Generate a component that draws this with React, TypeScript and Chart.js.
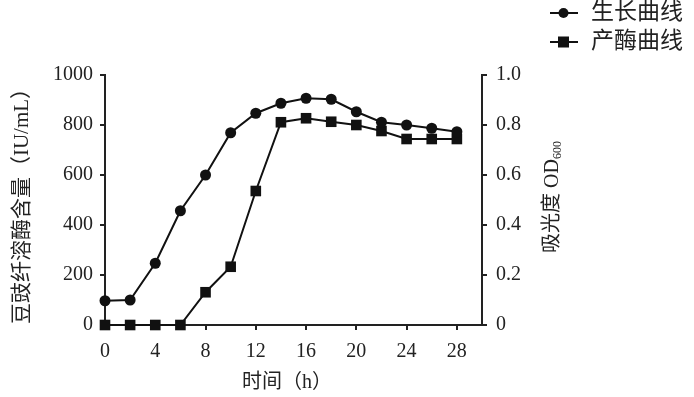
import React, { useEffect, useRef } from "react";
import { Chart, registerables } from "chart.js";

Chart.register(...registerables);

const hours = [0, 2, 4, 6, 8, 10, 12, 14, 16, 18, 20, 22, 24, 26, 28];
const growthOD = [0.097, 0.1, 0.247, 0.457, 0.6, 0.769, 0.847, 0.887, 0.907, 0.903, 0.853, 0.811, 0.8, 0.787, 0.773];
const enzyme = [0, 0, 0, 0, 131, 233, 536, 811, 827, 813, 800, 776, 744, 744, 744];
const seriesLabels = ["生长曲线", "产酶曲线"];
const xTicks = [0, 4, 8, 12, 16, 20, 24, 28];
const leftTicks = [0, 200, 400, 600, 800, 1000];
const rightTicks = [0, 0.2, 0.4, 0.6, 0.8, 1.0];
const xTitle = "时间（h）";
const leftTitle = "豆豉纤溶酶含量（IU/mL）";
const rightTitleMain = "吸光度 OD";
const rightTitleSub = "600";

const SERIF = "'Liberation Serif', 'DejaVu Serif', serif";
const CJK = "'Liberation Serif', 'Noto Sans CJK SC', serif";

const titlesPlugin = {
  id: "titlesPlugin",
  afterDraw(chart: any) {
    const ctx = chart.ctx;
    const area = chart.chartArea;
    const cy = (area.top + area.bottom) / 2;
    ctx.save();
    ctx.fillStyle = "#222";
    ctx.textAlign = "center";
    ctx.textBaseline = "middle";
    // left title
    ctx.save();
    ctx.translate(22, cy + 1);
    ctx.rotate(-Math.PI / 2);
    ctx.font = `21px ${CJK}`;
    ctx.fillText(leftTitle, 0, 0);
    ctx.restore();
    // right title
    ctx.save();
    ctx.translate(553, cy - 3);
    ctx.rotate(-Math.PI / 2);
    ctx.font = `20px ${CJK}`;
    const mw = ctx.measureText(rightTitleMain).width;
    ctx.font = `12px ${SERIF}`;
    const sw = ctx.measureText(rightTitleSub).width;
    const total = mw + sw;
    ctx.textAlign = "left";
    ctx.font = `20px ${CJK}`;
    ctx.fillText(rightTitleMain, -total / 2, 0);
    ctx.font = `12px ${SERIF}`;
    ctx.fillText(rightTitleSub, -total / 2 + mw, 5);
    ctx.restore();
    // x title
    ctx.font = `20px ${CJK}`;
    ctx.textAlign = "center";
    ctx.fillText(xTitle, 287, 383);
    // legend
    const rows = [13, 42];
    chart.data.datasets.forEach((ds: any, i: number) => {
      const y = rows[i];
      ctx.strokeStyle = "#111";
      ctx.lineWidth = 2;
      ctx.beginPath();
      ctx.moveTo(550, y);
      ctx.lineTo(578, y);
      ctx.stroke();
      ctx.fillStyle = "#111";
      if (ds.pointStyle === "circle") {
        ctx.beginPath();
        ctx.arc(563.5, y, 5, 0, Math.PI * 2);
        ctx.fill();
      } else {
        ctx.fillRect(558, y - 5.5, 11, 11);
      }
      ctx.fillStyle = "#222";
      ctx.font = `23px ${CJK}`;
      ctx.textAlign = "left";
      ctx.fillText(ds.label, 591, y);
    });
    ctx.restore();
  },
};

export default function App() {
  const ref = useRef<HTMLCanvasElement>(null);
  useEffect(() => {
    document.body.style.margin = "0";
    const chart = new Chart(ref.current!, {
      type: "line",
      data: {
        datasets: [
          {
            label: seriesLabels[0],
            data: hours.map((h, i) => ({ x: h, y: growthOD[i] })),
            yAxisID: "y1",
            borderColor: "#111",
            backgroundColor: "#111",
            borderWidth: 2,
            pointStyle: "circle",
            pointRadius: 5.5,
            pointBorderWidth: 0,
            clip: false,
          },
          {
            label: seriesLabels[1],
            data: hours.map((h, i) => ({ x: h, y: enzyme[i] })),
            yAxisID: "y",
            borderColor: "#111",
            backgroundColor: "#111",
            borderWidth: 2,
            pointStyle: "rect",
            pointRadius: 7.5,
            pointBorderWidth: 0,
            clip: false,
          },
        ],
      },
      options: {
        animation: false,
        responsive: false,
        events: [],
        layout: { padding: { top: 75, left: 0, right: 0, bottom: 0 } },
        plugins: { legend: { display: false }, tooltip: { enabled: false } },
        scales: {
          x: {
            type: "linear",
            min: 0,
            max: 30,
            afterBuildTicks: (s: any) => {
              s.ticks = xTicks.map((v) => ({ value: v }));
            },
            afterFit: (s: any) => {
              s.height = 72;
            },
            grid: { drawOnChartArea: false, tickLength: 5, color: "#222", lineWidth: 2 },
            border: { color: "#222", width: 2 },
            ticks: { color: "#222", font: { family: SERIF, size: 20 }, padding: 10, maxRotation: 0 },
          },
          y: {
            position: "left",
            min: 0,
            max: 1000,
            afterBuildTicks: (s: any) => {
              s.ticks = leftTicks.map((v) => ({ value: v }));
            },
            afterFit: (s: any) => {
              s.width = 105;
            },
            grid: { drawOnChartArea: false, tickLength: 5, color: "#222", lineWidth: 2 },
            border: { color: "#222", width: 2 },
            ticks: {
              color: "#222",
              font: { family: SERIF, size: 20 },
              padding: 7,
              callback: (v: any) => String(v),
            },
          },
          y1: {
            position: "right",
            min: 0,
            max: 1,
            afterBuildTicks: (s: any) => {
              s.ticks = rightTicks.map((v) => ({ value: v }));
            },
            afterFit: (s: any) => {
              s.width = 212;
            },
            grid: { drawOnChartArea: false, tickLength: 5, color: "#222", lineWidth: 2 },
            border: { color: "#222", width: 2 },
            ticks: {
              color: "#222",
              font: { family: SERIF, size: 20 },
              padding: 9,
              callback: (v: any) => (v === 0 ? "0" : Number(v).toFixed(1)),
            },
          },
        },
      },
      plugins: [titlesPlugin],
    } as any);
    return () => chart.destroy();
  }, []);
  return (
    <div style={{ position: "absolute", left: 0, top: 0, width: 694, height: 397 }}>
      <canvas ref={ref} width={694} height={397} style={{ width: 694, height: 397, display: "block" }} />
    </div>
  );
}
